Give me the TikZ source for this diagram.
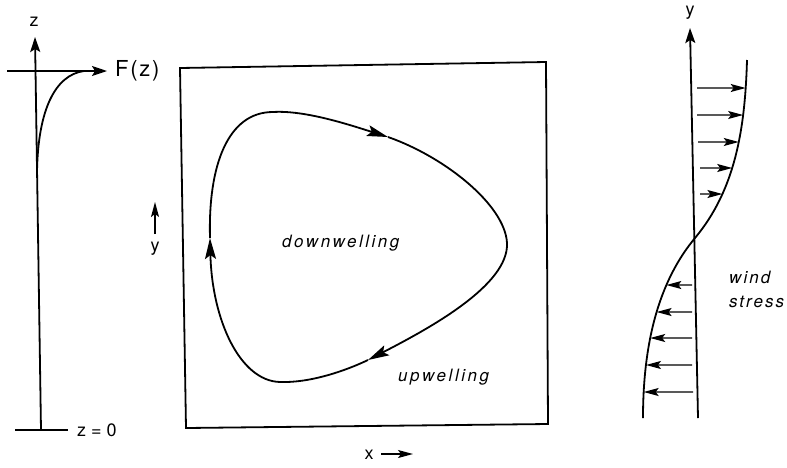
\documentclass[tikz,border=0pt]{standalone}
\usepackage{fontspec}
\setmainfont{TeX Gyre Heros}
\usetikzlibrary{arrows.meta,intersections}
\begin{document}
\begin{tikzpicture}[x=1pt,y=-1pt,
  ln/.style={line width=1.8pt},
  thinln/.style={line width=1.3pt},
  bigtip/.style={-{Stealth[length=15pt,width=10pt,inset=3pt]}},
  looptip/.style={-{Stealth[length=21pt,width=11pt,inset=4pt]}},
  smalltip/.style={-{Stealth[length=15pt,width=8pt,inset=3pt]}},
  lbl/.style={font=\fontsize{18}{20}\selectfont, inner sep=0pt},
  flbl/.style={font=\fontsize{22}{24}\selectfont\addfontfeature{LetterSpace=8}, inner sep=0pt, anchor=west},
  itl/.style={font=\fontsize{17}{19}\selectfont\itshape\addfontfeature{LetterSpace=15}, inner sep=0pt, anchor=west},
  witl/.style={font=\fontsize{17}{19}\selectfont\itshape\addfontfeature{LetterSpace=12}, inner sep=0pt, anchor=west}]
\useasboundingbox (0,0) rectangle (787,467);

% ---- left panel: F(z) profile
\coordinate (zb) at (41,430);
\coordinate (zt) at (35,37);
\draw[ln,bigtip] (zb) -- (zt);
\node[lbl] (zlab) at (34,22) {z};
\coordinate (fl) at (7,71);
\coordinate (fr) at (107,71);
\draw[ln,bigtip] (fl) -- (fr);
\node[flbl] (flab) at (115,71) {F(z)};
\coordinate (c0) at (37,172);
\coordinate (c1) at (84,71);
\draw[ln] (c0) .. controls (38,110) and (55,75) .. (c1);
\coordinate (bl) at (15,430);
\coordinate (br) at (68,430);
\draw[ln] (bl) -- (br);
\node[lbl, anchor=west] (z0) at (77,430) {z = 0};

% ---- middle panel: basin with gyre
\coordinate (b1) at (180,68);
\coordinate (b2) at (546,62);
\coordinate (b3) at (548,424);
\coordinate (b4) at (186,428);
\draw[ln] (b1) -- (b2) -- (b3) -- (b4) -- cycle;

\coordinate (LA) at (273,112);
\coordinate (LB) at (388,137);
\coordinate (LR) at (507,243);
\coordinate (LC) at (368,360);
\coordinate (LD) at (280,382);
\coordinate (LE) at (210,238);
\draw[ln,looptip] (LA) .. controls (305,110) and (350,125) .. (LB);
\draw[ln,looptip] (LB) .. controls (445,157) and (505,205) .. (LR)
                       .. controls (509,285) and (430,328) .. (LC);
\draw[ln,looptip] (LC) .. controls (345,371) and (310,383) .. (LD)
                       .. controls (240,381) and (212,320) .. (LE);
\draw[ln] (LE) .. controls (208,165) and (228,112) .. (LA);

\node[itl] (down) at (282,243) {downwelling};
\node[itl] (up) at (398,377) {upwelling};

\coordinate (ya) at (155,234);
\coordinate (yb) at (155,202);
\draw[thinln,smalltip] (ya) -- (yb);
\node[lbl] (ylab) at (155,249) {y};

\node[lbl] (xlab) at (369,455) {x};
\coordinate (xa) at (381,454);
\coordinate (xb) at (413,454);
\draw[thinln,smalltip] (xa) -- (xb);

% ---- right panel: wind stress
\coordinate (ra) at (698,418);
\coordinate (rt) at (690,28);
\draw[ln,bigtip] (ra) -- (rt);
\node[lbl] (ylab2) at (690,13) {y};

\draw[ln, name path=ws] (747,60) .. controls (745,130) and (735,190) .. (695,238)
      .. controls (660,280) and (643,340) .. (643,418);

\foreach \yy/\xs [count=\i] in {88/697,115/697,142/698,168/700,194/700} {
  \path[name path=h\i] (600,\yy) -- (787,\yy);
  \path[name intersections={of=ws and h\i, by=p\i}];
  \coordinate (s\i) at (\xs,\yy);
  \draw[thinln,smalltip] (s\i) -- (p\i);
}
\foreach \yy/\xs [count=\i] in {285/692,312/692,338/692,365/692,392/693} {
  \path[name path=g\i] (600,\yy) -- (787,\yy);
  \path[name intersections={of=ws and g\i, by=q\i}];
  \coordinate (u\i) at (\xs,\yy);
  \draw[thinln,smalltip] (u\i) -- (q\i);
}

\node[witl] (wind) at (729,277) {wind};
\node[witl] (stress) at (729,302) {stress};
\end{tikzpicture}
\end{document}
